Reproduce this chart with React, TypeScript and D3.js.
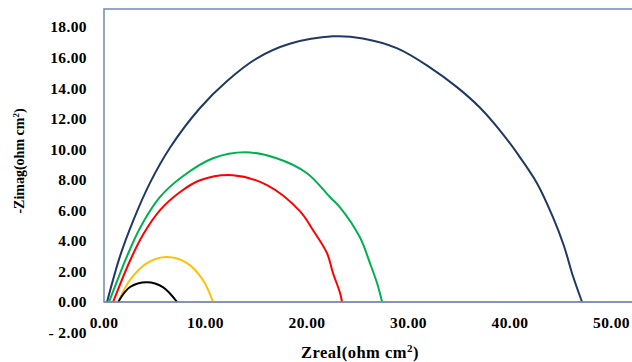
import * as d3 from 'd3'

// Nyquist curves, Zreal vs -Zimag (ohm cm2)
const navyZr = [0.3, 1.58, 2.86, 4.53, 6.5, 9.46, 12.1, 15.07, 18.3, 22.56, 25.5, 28.9, 32.1, 34.8, 37.0, 39.0, 40.7, 42.66, 44.2, 45.3, 46.2, 47.1]
const navyZi = [0, 3.0, 5.3, 7.8, 10.1, 12.7, 14.45, 15.95, 16.9, 17.39, 17.25, 16.6, 15.36, 14.05, 12.75, 11.24, 9.74, 7.78, 5.6, 3.7, 1.7, 0]

const greenZr = [0.5, 2.27, 3.55, 5.5, 7.7, 10.74, 13.9, 17.0, 20.0, 22.27, 23.25, 25.2, 26.2, 26.9, 27.4]
const greenZi = [0, 3.0, 4.85, 6.86, 8.2, 9.41, 9.8, 9.41, 8.43, 6.86, 6.2, 4.25, 2.55, 1.24, 0]

const redZr = [0.9, 2.56, 3.84, 5.5, 7.5, 9.46, 12.7, 16.06, 19.3, 20.6, 21.97, 22.56, 23.25, 23.45]
const redZi = [0, 2.7, 4.4, 6.0, 7.2, 7.97, 8.3, 7.65, 5.95, 4.7, 3.2, 1.9, 0.6, 0]

const orangeZr = [1.4, 2.56, 4.24, 6.2, 8.18, 9.75, 10.74]
const orangeZi = [0, 1.44, 2.55, 2.94, 2.55, 1.44, 0]

const blackZr = [1.4, 2.56, 4.24, 5.8, 7.2]
const blackZi = [0, 0.98, 1.3, 0.98, 0]

const xTicks = [0, 10, 20, 30, 40, 50]
const yTicks = [-2, 0, 2, 4, 6, 8, 10, 12, 14, 16, 18]

const series = [
  { name: 'navy', color: '#1f3864', zr: navyZr, zi: navyZi },
  { name: 'green', color: '#00b050', zr: greenZr, zi: greenZi },
  { name: 'red', color: '#ff0000', zr: redZr, zi: redZi },
  { name: 'orange', color: '#ffc000', zr: orangeZr, zi: orangeZi },
  { name: 'black', color: '#000000', zr: blackZr, zi: blackZi },
]

const W = 632
const H = 362
const FONT = '"Liberation Serif", "Times New Roman", serif'
const AXIS = '#7a8fb8'

export default function App() {
  const x = d3.scaleLinear().domain([0, 50]).range([104, 611.5])
  const y = d3.scaleLinear().domain([0, 18]).range([302, 27])

  const line = d3.line<[number, number]>()
    .x(d => x(d[0]))
    .y(d => y(d[1]))
    .curve(d3.curveCatmullRom.alpha(0.5))

  const top = 9
  const fmt = d3.format('.2f')

  return (
    <svg width={W} height={H} style={{ position: 'absolute', left: 0, top: 0, background: '#fff' }}>
      {/* plot frame */}
      <rect x={x(0)} y={top} width={700} height={y(0) - top} fill="none" stroke={AXIS} strokeWidth={1.6} />

      {series.map(s => (
        <path
          key={s.name}
          d={line(s.zr.map((v, i) => [v, s.zi[i]] as [number, number])) || ''}
          fill="none"
          stroke={s.color}
          strokeWidth={2}
          strokeLinejoin="round"
        />
      ))}

      {/* x axis line drawn over the curves */}
      <line x1={x(0)} x2={W} y1={y(0)} y2={y(0)} stroke={AXIS} strokeWidth={1.6} />

      {/* y tick labels */}
      {yTicks.map(t => (
        <text
          key={t}
          x={87}
          y={y(t)}
          dy="0.35em"
          textAnchor="end"
          fontFamily={FONT}
          fontWeight="bold"
          fontSize={15.5}
          letterSpacing={0.4}
          fill="#000"
        >
          {t < 0 ? '- ' + fmt(-t) : fmt(t)}
        </text>
      ))}

      {/* x tick labels */}
      {xTicks.map(t => (
        <text
          key={t}
          x={x(t)}
          y={328}
          textAnchor="middle"
          fontFamily={FONT}
          fontWeight="bold"
          fontSize={15.5}
          letterSpacing={0.4}
          fill="#000"
        >
          {fmt(t)}
        </text>
      ))}

      {/* x title */}
      <text x={360} y={358} textAnchor="middle" fontFamily={FONT} fontWeight="bold" fontSize={16.5} letterSpacing={0.5} fill="#000">
        Zreal(ohm cm<tspan dy={-6} fontSize={11}>2</tspan><tspan dy={6}>)</tspan>
      </text>

      {/* y title */}
      <text
        transform={`translate(24, 161) rotate(-90)`}
        textAnchor="middle"
        fontFamily={FONT}
        fontWeight="bold"
        fontSize={14}
        fill="#000"
      >
        -Zimag(ohm cm<tspan dy={-5} fontSize={9}>2</tspan><tspan dy={5}>)</tspan>
      </text>
    </svg>
  )
}
